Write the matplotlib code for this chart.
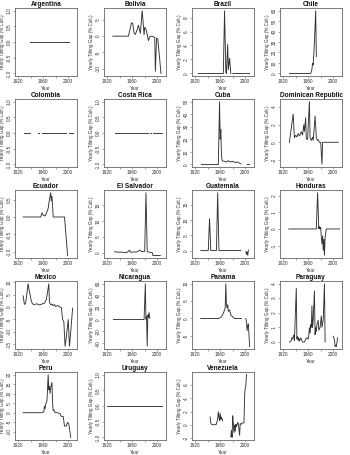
import numpy as np
import matplotlib
matplotlib.use("Agg")
import matplotlib.pyplot as plt

plt.rcParams['font.family'] = ['Liberation Sans', 'DejaVu Sans']
plt.rcParams['axes.unicode_minus'] = False

# (year, gap) points; None marks a break in the line
argentina = [(1939, 0), (2001, 0)]
bolivia = [(1929, 0), (1954, 0), (1957, 2.5), (1959, 4.2), (1961, 3.8), (1963, 1.0), (1965, 0.5),
           (1968, 2.0), (1970, 3.4), (1973, 0.8), (1976, 7.9), (1979, 0.4), (1980, 2.8), (1982, 2.1),
           (1984, 0.5), (1986, -1.4), (1988, -0.2), (1991, 0), (1996, -0.4), (1997, -10.9),
           (1999, -0.5), (2001, -1.0), (2003, -5.2), (2006, -11.5)]
brazil = [(1925, 0), (1965, 0), (1967, 9.0), (1969, 0.2), (1970, 0), (1972, 4.2), (1973, 0.5),
          (1975, 2.2), (1977, 0), None, (1980, 0), (2007, 0)]
chile = [(1930, 0), (1964, 0), (1966, 4), (1967, 10), (1968, 8), (1970, 30), (1972, 60), (1973, 16)]
colombia = [(1929, 0), (1939, 0), None, (1951, 0), (1954, 0), None, (1958, 0), (1996, 0), None,
            (2001, 0), (2007, 0)]
costa_rica = [(1932, 0), (1986, 0), None, (1989, 0), (1990, 0), None, (1993, 0), (2007, 0)]
cuba = [(1930, 0), (1957, 0), (1959, 50), (1960, 20), (1961, 28), (1962, 8), (1963, 3), (1966, 2.5),
        (1970, 2), (1973, 3), (1976, 2), (1980, 2.5), (1984, 1.5), (1988, 2), (1991, 1), (1993, 0.5),
        None, (2003, 0), (2007, 0)]
dominican_republic = [(1930, 0), (1936, 3.2), (1938, 0.5), (1940, 0.8), (1942, 0.6), (1944, 1.0),
                      (1946, 0.7), (1949, 1.2), (1951, 0.8), (1953, 2.0), (1954, 1.2), (1956, 2.8),
                      (1957, 0.4), (1959, 0.3), (1962, 4.6), (1963, 0.5), (1965, 0.2), (1967, 0.6),
                      (1968, 0.2), (1970, 2.0), (1971, 3.0), (1973, 0.5), (1975, 0.2), (1976, 0.3),
                      (1978, 0), (1980, 0), (1982, -2.5), (1983, 0), (2008, 0)]
ecuador = [(1928, 0), (1956, 0), (1958, 0.12), (1960, 0.05), (1963, 0.03), (1965, 0.1), (1968, 0.25),
           (1970, 0.5), (1972, 0.7), (1973, 0.45), (1974, 0.6), (1976, 0), (1994, 0), (1999, -1.1)]
el_salvador = [(1932, 0.3), (1934, 0.4), (1937, 0.2), (1942, 0.3), (1947, 0.1), (1952, 0.2),
               (1956, 0.9), (1957, 0.2), (1962, 0.3), (1967, 0.3), (1970, 0.6), (1972, 0.9),
               (1975, 0.4), (1980, 0.5), (1982, 19), (1984, 0.4), (1989, 0.2), (1992, 0.1),
               (1993, -0.8), (2005, -0.8)]
guatemala = [(1929, 0), (1941, 0), (1943, 10.5), (1945, 0), (1954, 0), (1956, 19), (1958, 0),
             (1993, 0), None, (2001, -0.3), (2002, -1.3), (2003, -0.4), (2004, -1.6), (2005, 0.2)]
honduras = [(1929, 0), (1973, 0), (1975, 2.2), (1977, 0), (1978, 0.15), (1979, 0), (1980, 0.1),
            (1981, -0.5), (1982, -0.9), (1983, -0.4), (1984, -1.3), (1985, -0.6), (1986, -1.6),
            (1987, -0.5), (1989, 0), (2010, 0)]
mexico = [(1928, 4.5), (1930, 1), (1932, 1.5), (1936, 9.5), (1938, 6), (1939, 5), (1941, 2.5),
          (1943, 1.2), (1946, 1), (1950, 1.3), (1954, 0.8), (1958, 1.2), (1962, 1.5), (1965, 3),
          (1967, 6), (1969, 9.5), (1970, 2), (1972, 0.8), (1974, 1.2), (1976, 0.5), (1978, 1.0),
          (1980, 0.2), (1983, 0.6), (1986, 0.1), (1989, -0.3), (1991, -5), (1993, -6), (1995, -16),
          (1997, -12), (2000, -5), (2002, -16), (2004, -10), (2007, -0.5)]
nicaragua = [(1930, 0), (1979, 0), (1981, 60), (1982, 0), (1983, 5), (1984, -45), (1985, 8),
             (1986, 3), (1987, 12), (1988, 2)]
panama = [(1929, 0), (1958, 0), (1962, 0.5), (1965, 1.5), (1968, 3), (1969, 10), (1970, 4),
          (1971, 3), (1972, 4), (1973, 2), (1975, 2.5), (1977, 1), (1980, 0.5), (1983, 0),
          (1994, 0), None, (2001, 0), (2002, -1), (2003, -3.5), (2004, -2), (2005, -1.5), (2007, -8)]
paraguay = [(1930, 0), (1933, 0.1), (1934, 0.3), (1935, 0.2), (1937, 0.5), (1938, 0.1), (1941, 3.7),
            (1942, 0.2), (1943, 0.4), (1944, 0.1), (1945, 0.3), (1946, 0.05), (1948, 0.3),
            (1950, 0.1), (1951, 0), (1954, 0), (1956, 0.2), (1958, 0.3), (1960, 0.2), (1961, 0.5),
            (1962, 1.0), (1963, 0.6), (1964, 1.2), (1965, 1.0), (1966, 2.5), (1967, 1.0), (1968, 1.5),
            (1970, 3.5), (1971, 0.5), (1972, 1.0), (1973, 0.7), (1974, 1.2), (1976, 1.5), (1977, 0.8),
            (1979, 1.0), (1981, 1.8), (1982, 1.0), (1984, 1.5), (1986, 4.0), (1987, 0), None,
            (2000, 0.4), (2001, 0.3), (2002, 0.1), (2003, -0.3), (2004, -0.2), (2005, -0.3),
            (2007, 0.3)]
peru = [(1928, 0), (1958, 0), (1961, 0.5), (1962, 3.5), (1963, 2), (1964, 4.5), (1966, 6),
        (1968, 20), (1969, 12), (1970, 14), (1971, 10), (1972, 13), (1974, 16), (1975, 5),
        (1976, 1), (1977, 1.5), (1979, 0), (1983, 0), (1985, -0.3), (1987, -0.5), (1989, -2),
        (1992, -2), (1994, -7), (1997, -7), (1999, -5), (2001, -6), (2004, -13)]
uruguay = [(1920, 0), (2008, 0)]
venezuela = [(1944, 1.2), (1945, 0.3), (1946, 0.1), (1950, 0), (1954, 0.1), (1956, 1.0), (1957, 2.0),
             (1958, 1.2), (1959, 0.6), (1960, 1.8), (1961, 0.8), (1962, 1.2), (1964, 0.6), None,
             (1977, -1.8), (1978, -0.8), (1979, -1.9), (1980, 1.4), (1981, 0.2), (1982, -1.2),
             (1983, 0.0), (1984, -1.0), (1985, 0.1), (1986, -0.3), (1988, 0.4), (1989, 0.2),
             (1991, -1.6), (1992, 0.2), (1994, 0.1), (1995, 0.3), (1998, 0.3), (1999, 4.5),
             (2000, 5.5), (2001, 6.0), (2002, 7.6)]

countries = ["Argentina", "Bolivia", "Brazil", "Chile", "Colombia", "Costa Rica", "Cuba",
             "Dominican Republic", "Ecuador", "El Salvador", "Guatemala", "Honduras", "Mexico",
             "Nicaragua", "Panama", "Paraguay", "Peru", "Uruguay", "Venezuela"]
series = [argentina, bolivia, brazil, chile, colombia, costa_rica, cuba, dominican_republic, ecuador,
          el_salvador, guatemala, honduras, mexico, nicaragua, panama, paraguay, peru, uruguay, venezuela]

flat_ticks = [-1.0, -0.5, 0.0, 0.5, 1.0]
y_ticks = [flat_ticks, [-10, -5, 0, 5], [0, 2, 4, 6, 8], [0, 10, 20, 30, 40, 50, 60],
           flat_ticks, flat_ticks, [0, 10, 20, 30, 40, 50], [-2, 0, 2, 4],
           [-1.0, -0.5, 0.0, 0.5], [0, 5, 10, 15], [0, 5, 10, 15], [-1, 0, 1, 2],
           [-15, -10, -5, 0, 5, 10], [-40, -20, 0, 20, 40, 60], [-5, 0, 5, 10], [0, 1, 2, 3, 4],
           [-10, -5, 0, 5, 10, 15, 20], flat_ticks, [-2, 0, 2, 4, 6]]
x_ticks = [1920, 1940, 1960, 1980, 2000]
x_labels = ["1920", "", "1960", "", "2000"]

W, H = 350, 455
fig = plt.figure(figsize=(W / 100, H / 100), dpi=100)

col_left = [15, 104, 192, 280]
box_w, box_h = 62, 68
row_top0, row_step = 8, 91
line_col = "#333333"
axis_col = "#666666"

for i, (name, pts) in enumerate(zip(countries, series)):
    r, c = divmod(i, 4)
    left = col_left[c]
    top = row_top0 + r * row_step
    ax = fig.add_axes([left / W, 1 - (top + box_h) / H, box_w / W, box_h / H])

    xs = np.array([np.nan if p is None else p[0] for p in pts], dtype=float)
    ys = np.array([np.nan if p is None else p[1] for p in pts], dtype=float)
    ax.plot(xs, ys, color=line_col, lw=0.65, solid_joinstyle="miter")

    ax.set_xlim(1915, 2014)
    yt = y_ticks[i]
    if np.nanmax(np.abs(ys)) == 0:
        ax.set_ylim(-1.08, 1.08)
    else:
        lo, hi = np.nanmin(ys), np.nanmax(ys)
        pad = 0.04 * (hi - lo)
        ax.set_ylim(lo - pad, hi + pad)
    ax.set_yticks(yt)
    ax.set_xticks(x_ticks)
    ax.set_xticklabels(x_labels)
    if yt is flat_ticks or yt == [-1.0, -0.5, 0.0, 0.5]:
        ax.set_yticklabels([f"{v:.1f}" for v in yt])

    for lab in ax.get_yticklabels():
        lab.set_rotation(90)
        lab.set_va("center")
    ax.tick_params(axis="both", length=1.5, width=0.4, pad=1, labelsize=3.4,
                   color=axis_col, labelcolor="#333333")
    for sp in ax.spines.values():
        sp.set_color(axis_col)
        sp.set_linewidth(0.6)

    ax.set_title(name, fontsize=4.7, fontweight="bold", pad=1.5, color="#111111")
    ax.set_xlabel("Year", fontsize=3.3, labelpad=1, color="#333333")
    ax.set_ylabel("Yearly Tilting Gap (% Cult.)", fontsize=3.3, labelpad=1, color="#333333")

fig.savefig("out.png", dpi=100)
